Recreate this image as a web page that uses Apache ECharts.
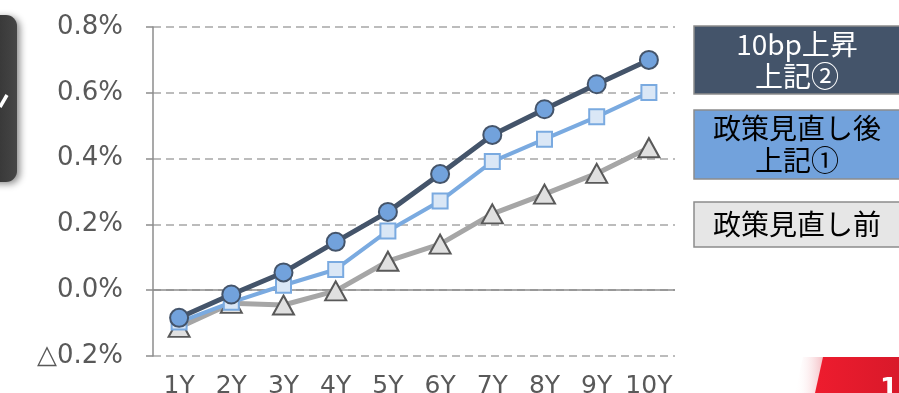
<!DOCTYPE html>
<html>
<head>
<meta charset="utf-8">
<script src="https://cdn.jsdelivr.net/npm/echarts@6/dist/echarts.min.js"></script>
<style>
html,body{margin:0;padding:0;background:#fff;}
#c{width:899px;height:393px;}
</style>
</head>
<body>
<div id="c"></div>
<script>
var categories = ['1Y','2Y','3Y','4Y','5Y','6Y','7Y','8Y','9Y','10Y'];
var seriesNames = ['政策見直し前','政策見直し後 上記①','10bp上昇 上記②'];
var before = [-0.113, -0.040, -0.045, -0.002, 0.088, 0.140, 0.232, 0.292, 0.355, 0.433];
var after  = [-0.097, -0.037, 0.015, 0.063, 0.180, 0.271, 0.391, 0.459, 0.527, 0.601];
var up10   = [-0.084, -0.013, 0.054, 0.147, 0.238, 0.353, 0.472, 0.550, 0.626, 0.700];
var yMin = -0.2, yMax = 0.8, yStep = 0.2;

var chart = echarts.init(document.getElementById('c'), null, {renderer:'canvas'});
var FONT = 'DejaVu Sans';
var JP = '"Noto Sans CJK JP", "Noto Sans CJK SC", sans-serif';

function boxText(x, y, w, h, fill, lines, color) {
  var els = [{
    type:'rect', shape:{x:x, y:y, width:w, height:h},
    style:{fill:fill, stroke:'#8c8c8c', lineWidth:1.5}
  }];
  var n = lines.length, lh = 32;
  var cy = y + h/2 - (n-1)*lh/2;
  lines.forEach(function(t, i){
    els.push({type:'text', x: x + w/2, y: cy + i*lh,
      style:{text:t, fill:color, font:'28px ' + JP, textAlign:'center', textVerticalAlign:'middle'}});
  });
  return els;
}

var graphics = [];
// left dark decoration
graphics.push({
  type:'rect', shape:{x:-20, y:15, width:37, height:167, r:11},
  style:{
    fill: new echarts.graphic.LinearGradient(0,0,1,0,[{offset:0,color:'#2b2b2b'},{offset:1,color:'#464646'}]),
    shadowBlur:7, shadowColor:'rgba(0,0,0,0.45)', shadowOffsetX:3, shadowOffsetY:2
  }, z:10
});
graphics.push({type:'polyline', shape:{points:[[0,107],[7,95]]}, style:{stroke:'#fff', lineWidth:3.5}, z:11});
// legend-like boxes
graphics = graphics.concat(boxText(694, 26, 206, 68, '#44546a', ['10bp上昇','上記②'], '#ffffff'));
graphics = graphics.concat(boxText(694, 110, 206, 69, '#72a2dc', ['政策見直し後','上記①'], '#000000'));
graphics = graphics.concat(boxText(694, 202, 206, 45, '#e6e6e6', ['政策見直し前'], '#000000'));
// bottom-right red tab
graphics.push({type:'polygon', shape:{points:[[803,357],[825,357],[817,393],[795,393]]},
  style:{fill:new echarts.graphic.LinearGradient(0,0,1,0,[{offset:0,color:'rgba(255,255,255,0)'},{offset:1,color:'#f3b7bd'}])}});
graphics.push({type:'polygon', shape:{points:[[823,357],[899,357],[899,393],[815,393]]},
  style:{fill:new echarts.graphic.LinearGradient(0,0,1,0,[{offset:0,color:'#ee1c2e'},{offset:1,color:'#d9192a'}])}});
graphics.push({type:'text', x:880, y:377, style:{text:'1', fill:'#fff', font:'bold 26px ' + FONT, textAlign:'left', textVerticalAlign:'top'}});

var option = {
  animation:false,
  backgroundColor:'#ffffff',
  grid:{left:153, right:224, top:27, bottom:37, containLabel:false, outerBoundsMode:'none'},
  xAxis:{
    type:'category', data:categories, boundaryGap:true,
    axisLine:{show:false}, axisTick:{show:false},
    axisLabel:{color:'#595959', fontSize:25, fontFamily:FONT, margin:18, interval:0, hideOverlap:false}
  },
  yAxis:{
    type:'value', min:yMin, max:yMax, interval:yStep,
    axisLine:{show:true, lineStyle:{color:'#8c8c8c', width:1.5}},
    axisTick:{show:true, length:7, lineStyle:{color:'#8c8c8c', width:1.5}},
    axisLabel:{color:'#595959', fontSize:26, fontFamily:FONT, margin:30,
      formatter:function(v){ var s = Math.abs(v).toFixed(1) + '%'; return v < -1e-9 ? '△' + s : s; }},
    splitLine:{show:true, lineStyle:{color:'#a6a6a6', type:[8,5], width:1.5}}
  },
  series:[
    {
      name:seriesNames[0], type:'line', data:before, z:2,
      symbol:'triangle', symbolSize:[21,19], showAllSymbol:true,
      lineStyle:{color:'#a6a6a6', width:5},
      itemStyle:{color:'#e0e0e0', borderColor:'#595959', borderWidth:2},
      markLine:{silent:true, z:1, symbol:['none','none'], label:{show:false},
        lineStyle:{color:'#8c8c8c', type:'solid', width:1.6},
        data:[{yAxis:0}]}
    },
    {
      name:seriesNames[1], type:'line', data:after, z:3,
      symbol:'rect', symbolSize:15, showAllSymbol:true,
      lineStyle:{color:'#7aaae0', width:4},
      itemStyle:{color:'#dae7f6', borderColor:'#7aaae0', borderWidth:2}
    },
    {
      name:seriesNames[2], type:'line', data:up10, z:4,
      symbol:'circle', symbolSize:18, showAllSymbol:true,
      lineStyle:{color:'#44546a', width:5},
      itemStyle:{color:'#72a2dc', borderColor:'#44546a', borderWidth:2}
    }
  ],
  graphic:graphics
};
chart.setOption(option);
</script>
</body>
</html>
